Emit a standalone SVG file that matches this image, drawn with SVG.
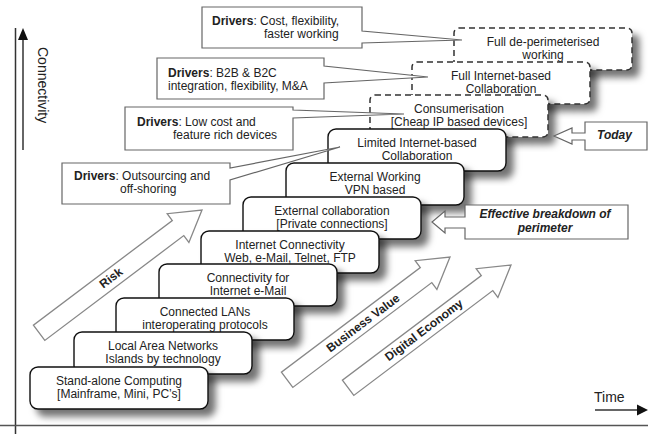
<svg xmlns="http://www.w3.org/2000/svg" width="648" height="434" viewBox="0 0 648 434">
<style>
text{font-family:"Liberation Sans",Arial,sans-serif;font-size:12px;fill:#222}
.bx{fill:#fff;stroke:#111;stroke-width:1.4;filter:url(#sh)}
.dbx{fill:#fff;stroke:#333;stroke-width:1.5;stroke-dasharray:6 4;filter:url(#sh)}
.c{text-anchor:middle}
.drv{fill:#fff;stroke:#666;stroke-width:1.2;stroke-linejoin:miter}
.big{fill:#fff;stroke:#888;stroke-width:1.3}
.bl{font-weight:bold;fill:#222}
.bi{font-weight:bold;font-style:italic}
.ax{stroke:#333;stroke-width:1.5;fill:none}
</style>
<defs>
<filter id="sh" x="-10%" y="-15%" width="130%" height="150%">
<feDropShadow dx="7" dy="7" stdDeviation="3.5" flood-color="#000" flood-opacity="0.55"/>
</filter>
</defs>

<g id="axes">
<line class="ax" x1="15.5" y1="28" x2="15.5" y2="434"/>
<line class="ax" x1="23" y1="150" x2="23" y2="38"/>
<polygon points="23,28 18,40 28,40" fill="#111"/>
<text x="38" y="47" transform="rotate(90 38 47)" style="font-size:14px">Connectivity</text>
<line x1="0" y1="425.5" x2="648" y2="425.5" stroke="#555" stroke-width="1.5"/>
<line class="ax" x1="595" y1="410" x2="638" y2="410"/>
<polygon points="648,410 637,404.5 637,415.5" fill="#111"/>
<text x="594" y="402" style="font-size:14px">Time</text>
</g>

<g id="arrow-risk">
<polygon class="big" points="202,210 188.9,242.4 183.8,235.6 44.8,340.4 33.4,325.2 172.3,220.5 167.2,213.7"/>
<text class="bl c" transform="translate(111,278) rotate(-37)" y="4">Risk</text>
</g>
<g id="arrow-business-value">
<polygon class="big" points="450,257 436.9,289.4 431.8,282.6 292.8,387.4 281.4,372.2 420.3,267.5 415.2,260.7"/>
<text class="bl c" transform="translate(363,323) rotate(-37)" y="4">Business Value</text>
</g>
<g id="arrow-digital-economy">
<polygon class="big" points="511,265 497.9,297.4 492.8,290.6 353.8,395.4 342.4,380.2 481.3,275.5 476.2,268.7"/>
<text class="bl c" transform="translate(424,330) rotate(-37)" y="4">Digital Economy</text>
</g>

<g id="box11">
<rect class="dbx" x="454" y="28" width="178" height="42" rx="5"/>
<text class="c" x="543" y="46">Full de-perimeterised</text>
<text class="c" x="543" y="59">working</text>
</g>
<g id="box10">
<rect class="dbx" x="412" y="62" width="178" height="42" rx="5"/>
<text class="c" x="501" y="80">Full Internet-based</text>
<text class="c" x="501" y="93">Collaboration</text>
</g>
<g id="box9">
<rect class="dbx" x="370" y="95" width="178" height="42" rx="5"/>
<text class="c" x="459" y="113">Consumerisation</text>
<text class="c" x="459" y="126">[Cheap IP based devices]</text>
</g>
<g id="box8">
<rect class="bx" x="328" y="129" width="178" height="42" rx="8"/>
<text class="c" x="417" y="147">Limited Internet-based</text>
<text class="c" x="417" y="160">Collaboration</text>
</g>
<g id="box7">
<rect class="bx" x="286" y="163" width="178" height="42" rx="8"/>
<text class="c" x="375" y="181">External Working</text>
<text class="c" x="375" y="194">VPN based</text>
</g>
<g id="box6">
<rect class="bx" x="243" y="197" width="178" height="42" rx="8"/>
<text class="c" x="332" y="215">External collaboration</text>
<text class="c" x="332" y="228">[Private connections]</text>
</g>
<g id="box5">
<rect class="bx" x="201" y="231" width="178" height="42" rx="8"/>
<text class="c" x="290" y="249">Internet Connectivity</text>
<text class="c" x="290" y="262">Web, e-Mail, Telnet, FTP</text>
</g>
<g id="box4">
<rect class="bx" x="159" y="264" width="178" height="42" rx="8"/>
<text class="c" x="248" y="282">Connectivity for</text>
<text class="c" x="248" y="295">Internet e-Mail</text>
</g>
<g id="box3">
<rect class="bx" x="116" y="298" width="178" height="42" rx="8"/>
<text class="c" x="205" y="316">Connected LANs</text>
<text class="c" x="205" y="329">interoperating protocols</text>
</g>
<g id="box2">
<rect class="bx" x="74" y="332" width="178" height="42" rx="8"/>
<text class="c" x="163" y="350">Local Area Networks</text>
<text class="c" x="163" y="363">Islands by technology</text>
</g>
<g id="box1">
<rect class="bx" x="30" y="367" width="178" height="42" rx="8"/>
<text class="c" x="119" y="385">Stand-alone Computing</text>
<text class="c" x="119" y="398">[Mainframe, Mini, PC’s]</text>
</g>

<g id="connectors">
<g id="drivers-a">
<path class="drv" d="M202,7 H362 V31 L462,40 L362,43 V48 H202 Z"/>
<text x="212" y="25"><tspan font-weight="bold">Drivers</tspan>: Cost, flexibility,</text>
<text x="264" y="38">faster working</text>
</g>
<g id="drivers-b">
<path class="drv" d="M157,58 H324 V66 L428,77 L324,83 V99 H157 Z"/>
<text x="168" y="77"><tspan font-weight="bold">Drivers</tspan>: B2B &amp; B2C</text>
<text x="168" y="90">integration, flexibility, M&amp;A</text>
</g>
<g id="drivers-c">
<path class="drv" d="M125,107 H293 V110 L404,114 L293,118 V150 H125 Z"/>
<text x="137" y="126"><tspan font-weight="bold">Drivers</tspan>: Low cost and</text>
<text x="173" y="139">feature rich devices</text>
</g>
<g id="drivers-d">
<path class="drv" d="M62,163 H230 V168 L340,147 L230,180 V204 H62 Z"/>
<text x="74" y="180"><tspan font-weight="bold">Drivers</tspan>: Outsourcing and</text>
<text x="120" y="193">off-shoring</text>
</g>
<g id="today">
<path class="drv" d="M647,122 H585 V133 H572 V128 L554,136 L572,144 V140 H585 V150 H647 Z"/>
<text class="bi" x="597" y="139">Today</text>
</g>
<g id="effective-breakdown">
<path class="drv" d="M628,205 H465 V217 H445 V211 L432,222 L445,233 V228 H465 V239 H628 Z"/>
<text class="bi c" x="545" y="218">Effective breakdown of</text>
<text class="bi c" x="545" y="232">perimeter</text>
</g>
</g>
</svg>
